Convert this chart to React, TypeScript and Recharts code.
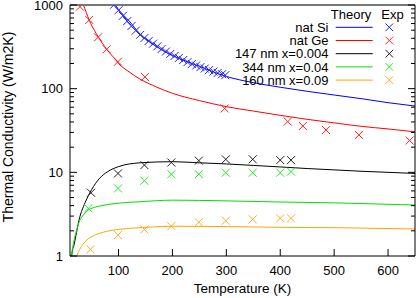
import { ComposedChart, Line, Scatter, XAxis, YAxis } from "recharts";

// temperature (K) / conductivity (W/m2K)
const siTheory = [
  { t: 85, k: 1200 }, { t: 90, k: 1080 }, { t: 100, k: 880 }, { t: 120, k: 640 },
  { t: 140, k: 450 }, { t: 170, k: 320 }, { t: 200, k: 250 }, { t: 250, k: 185 },
  { t: 300, k: 140 }, { t: 350, k: 118 }, { t: 400, k: 104 }, { t: 450, k: 93 },
  { t: 500, k: 84 }, { t: 550, k: 76 }, { t: 600, k: 68 }, { t: 650, k: 62 },
];
const siExp = [
  { t: 92, k: 1010 }, { t: 100, k: 865 }, { t: 108, k: 742 }, { t: 116, k: 641 },
  { t: 124, k: 560 }, { t: 132, k: 494 }, { t: 140, k: 440 }, { t: 148, k: 403 },
  { t: 156, k: 372 }, { t: 164, k: 345 }, { t: 172, k: 320 }, { t: 180, k: 298 },
  { t: 188, k: 278 }, { t: 196, k: 260 }, { t: 204, k: 246 }, { t: 212, k: 233 },
  { t: 220, k: 220 }, { t: 228, k: 208 }, { t: 236, k: 197 }, { t: 244, k: 189 },
  { t: 252, k: 181 }, { t: 260, k: 174 }, { t: 268, k: 167 }, { t: 276, k: 160 },
  { t: 284, k: 154 }, { t: 292, k: 149 }, { t: 298, k: 145 },
];
const geTheory = [
  { t: 30, k: 1250 }, { t: 35, k: 1000 }, { t: 40, k: 820 }, { t: 46, k: 650 },
  { t: 55, k: 500 }, { t: 62, k: 420 }, { t: 70, k: 350 }, { t: 78, k: 295 },
  { t: 90, k: 240 }, { t: 100, k: 200 }, { t: 120, k: 158 }, { t: 140, k: 130 },
  { t: 170, k: 105 }, { t: 200, k: 88 }, { t: 250, k: 72 }, { t: 300, k: 61 },
  { t: 350, k: 54 }, { t: 400, k: 48 }, { t: 450, k: 43 }, { t: 500, k: 39 },
  { t: 550, k: 35.5 }, { t: 600, k: 33 }, { t: 650, k: 30.5 },
];
const geExp = [
  { t: 28.5, k: 955 }, { t: 45.7, k: 663 }, { t: 62, k: 411 }, { t: 78, k: 296 },
  { t: 99, k: 210 }, { t: 149, k: 138 }, { t: 297, k: 58 }, { t: 414, k: 40.4 },
  { t: 442, k: 35.8 }, { t: 485, k: 32 }, { t: 546, k: 28 }, { t: 640, k: 24 },
];
const nm147Theory = [
  { t: 12, k: 0.85 }, { t: 13, k: 1.0 }, { t: 18, k: 1.4 }, { t: 22, k: 1.9 },
  { t: 28, k: 2.9 }, { t: 35, k: 3.9 }, { t: 41, k: 4.8 }, { t: 50, k: 6.2 },
  { t: 65, k: 8.5 }, { t: 80, k: 10.2 }, { t: 100, k: 11.7 }, { t: 140, k: 13.0 },
  { t: 200, k: 13.4 }, { t: 250, k: 13.0 }, { t: 300, k: 12.6 }, { t: 350, k: 12.1 },
  { t: 400, k: 11.6 }, { t: 450, k: 11.1 }, { t: 500, k: 10.7 }, { t: 550, k: 10.3 },
  { t: 600, k: 10.0 }, { t: 650, k: 9.7 },
];
const nm147Exp = [
  { t: 49, k: 5.7 }, { t: 99, k: 9.7 }, { t: 148, k: 12.2 }, { t: 198, k: 13.1 },
  { t: 249, k: 13.8 }, { t: 299, k: 14.3 }, { t: 349, k: 14.3 }, { t: 400, k: 14.0 },
  { t: 420, k: 14.0 },
];
const nm344Theory = [
  { t: 12, k: 0.85 }, { t: 13, k: 1.0 }, { t: 18, k: 1.6 }, { t: 22, k: 2.0 },
  { t: 28, k: 2.65 }, { t: 35, k: 3.1 }, { t: 41, k: 3.45 }, { t: 55, k: 3.8 },
  { t: 65, k: 3.95 }, { t: 95, k: 4.25 }, { t: 140, k: 4.45 }, { t: 200, k: 4.65 },
  { t: 250, k: 4.62 }, { t: 300, k: 4.56 }, { t: 400, k: 4.42 }, { t: 500, k: 4.32 },
  { t: 600, k: 4.15 }, { t: 650, k: 4.07 },
];
const nm344Exp = [
  { t: 44, k: 3.71 }, { t: 99, k: 6.43 }, { t: 148, k: 7.95 }, { t: 198, k: 9.5 },
  { t: 249, k: 9.5 }, { t: 299, k: 9.9 }, { t: 349, k: 9.9 }, { t: 400, k: 9.9 },
  { t: 420, k: 10.2 },
];
const nm160Theory = [
  { t: 20, k: 0.85 }, { t: 23, k: 1.0 }, { t: 28, k: 1.2 }, { t: 34, k: 1.38 },
  { t: 41, k: 1.55 }, { t: 50, k: 1.7 }, { t: 65, k: 1.87 }, { t: 80, k: 1.98 },
  { t: 100, k: 2.08 }, { t: 140, k: 2.18 }, { t: 200, k: 2.27 }, { t: 300, k: 2.25 },
  { t: 400, k: 2.2 }, { t: 500, k: 2.18 }, { t: 600, k: 2.13 }, { t: 650, k: 2.1 },
];
const nm160Exp = [
  { t: 48, k: 1.2 }, { t: 99, k: 1.78 }, { t: 148, k: 2.08 }, { t: 198, k: 2.28 },
  { t: 249, k: 2.53 }, { t: 299, k: 2.64 }, { t: 349, k: 2.74 }, { t: 400, k: 2.82 },
  { t: 420, k: 2.82 },
];

const xTicks = [100, 200, 300, 400, 500, 600];
const yMajor = [1, 10, 100, 1000];
const yTicks = [
  1, 2, 3, 4, 5, 6, 7, 8, 9, 10, 20, 30, 40, 50, 60, 70, 80, 90,
  100, 200, 300, 400, 500, 600, 700, 800, 900, 1000,
];

const series = [
  { name: "nat Si", theory: siTheory, exp: siExp, line: "#0000ff", mark: "#2222ff" },
  { name: "nat Ge", theory: geTheory, exp: geExp, line: "#ff0000", mark: "#ff2222" },
  { name: "147 nm x=0.004", theory: nm147Theory, exp: nm147Exp, line: "#000000", mark: "#222222" },
  { name: "344 nm x=0.04", theory: nm344Theory, exp: nm344Exp, line: "#00e000", mark: "#22ee22" },
  { name: "160 nm x=0.09", theory: nm160Theory, exp: nm160Exp, line: "#ffa500", mark: "#ffaa22" },
];

const FONT = '"Liberation Sans", Arial, sans-serif';

const cross = (color: string) => (p: any) => (
  <path
    d={`M${p.cx - 4},${p.cy - 4}L${p.cx + 4},${p.cy + 4}M${p.cx - 4},${p.cy + 4}L${p.cx + 4},${p.cy - 4}`}
    stroke={color}
    strokeWidth={1}
    fill="none"
  />
);

const LeftTick = (p: any) => {
  const v = p.payload.value;
  const major = yMajor.includes(v);
  const ax = p.x + 7;
  return (
    <g>
      <line x1={ax} x2={ax + (major ? 7 : 4)} y1={p.y} y2={p.y} stroke="#000" />
      {major && (
        <text x={p.x} y={p.y} dy={4.7} textAnchor="end" fontSize={13} fill="#000" fontFamily={FONT}>
          {v}
        </text>
      )}
    </g>
  );
};

const RightTick = (p: any) => {
  const major = yMajor.includes(p.payload.value);
  return <line x1={p.x} x2={p.x - (major ? 7 : 4)} y1={p.y} y2={p.y} stroke="#000" />;
};

const BottomTick = (p: any) => (
  <g>
    <line x1={p.x} x2={p.x} y1={p.y} y2={p.y - 7} stroke="#000" />
    <text x={p.x} y={p.y} dy={18.7} textAnchor="middle" fontSize={13} fill="#000" fontFamily={FONT}>
      {p.payload.value}
    </text>
  </g>
);

const TopTick = (p: any) => <line x1={p.x} x2={p.x} y1={p.y} y2={p.y + 7} stroke="#000" />;

function Legend() {
  const rowY = [27.3, 40.5, 53.7, 66.9, 80.1];
  return (
    <svg
      width={416}
      height={298}
      style={{ position: "absolute", left: 0, top: 0, pointerEvents: "none" }}
      fontFamily={FONT}
      fontSize={13}
    >
      <text x={351} y={19.4} textAnchor="middle">Theory</text>
      <text x={392.5} y={19.4} textAnchor="middle">Exp</text>
      {series.map((s, i) => (
        <g key={s.name}>
          <text x={328.5} y={rowY[i] + 4.7} textAnchor="end">{s.name}</text>
          <line x1={335.7} x2={372.7} y1={rowY[i]} y2={rowY[i]} stroke={s.line} strokeWidth={1} />
          <path
            d={`M385.5,${rowY[i] - 3.8}l7.6,7.6M385.5,${rowY[i] + 3.8}l7.6,-7.6`}
            stroke={s.mark}
            fill="none"
          />
        </g>
      ))}
    </svg>
  );
}

export default function App() {
  return (
    <div style={{ position: "absolute", left: 0, top: 0, width: 416, height: 298, background: "#fff", fontFamily: FONT }}>
      <ComposedChart width={416} height={298} margin={{ top: 0, right: 0, bottom: 0, left: 0 }}>
        <XAxis
          dataKey="t"
          type="number"
          domain={[10, 650]}
          allowDataOverflow
          ticks={xTicks}
          interval={0}
          height={42}
          tickSize={0}
          tickMargin={0}
          tickLine={false}
          tick={BottomTick}
          axisLine={{ stroke: "#000" }}
          label={(p: any) => (
            <text
              x={p.viewBox.x + p.viewBox.width / 2}
              y={293}
              textAnchor="middle"
              fontSize={13.5}
              fontFamily={FONT}
              fill="#000"
            >
              Temperature (K)
            </text>
          )}
        />
        <XAxis
          xAxisId="t"
          orientation="top"
          type="number"
          domain={[10, 650]}
          allowDataOverflow
          ticks={xTicks}
          interval={0}
          height={5}
          tickSize={0}
          tickMargin={0}
          tickLine={false}
          tick={TopTick}
          axisLine={{ stroke: "#777", strokeWidth: 2 }}
        />
        <YAxis
          dataKey="k"
          scale="log"
          domain={[1, 1000]}
          allowDataOverflow
          ticks={yTicks}
          interval={0}
          width={70}
          tickSize={0}
          tickMargin={7}
          tickLine={false}
          tick={LeftTick}
          axisLine={{ stroke: "#000" }}
          label={(p: any) => (
            <text
              x={13.3}
              y={p.viewBox.y + p.viewBox.height / 2 - 3.5}
              transform={`rotate(-90 13.3 ${p.viewBox.y + p.viewBox.height / 2 - 3.5})`}
              textAnchor="middle"
              fontSize={14}
              fontFamily={FONT}
              fill="#000"
            >
              Thermal Conductivity (W/m2K)
            </text>
          )}
        />
        <YAxis
          yAxisId="r"
          orientation="right"
          scale="log"
          domain={[1, 1000]}
          allowDataOverflow
          ticks={yTicks}
          interval={0}
          width={1}
          tickSize={0}
          tickMargin={0}
          tickLine={false}
          tick={RightTick}
          axisLine={{ stroke: "#000" }}
        />
        {series.map((s) => (
          <Line
            key={s.name + "-th"}
            data={s.theory}
            dataKey="k"
            type="monotone"
            stroke={s.line}
            strokeWidth={1}
            dot={false}
            isAnimationActive={false}
          />
        ))}
        {series.map((s) => (
          <Scatter
            key={s.name + "-exp"}
            data={s.exp}
            dataKey="k"
            shape={cross(s.mark)}
            isAnimationActive={false}
          />
        ))}
      </ComposedChart>
      <Legend />
    </div>
  );
}
